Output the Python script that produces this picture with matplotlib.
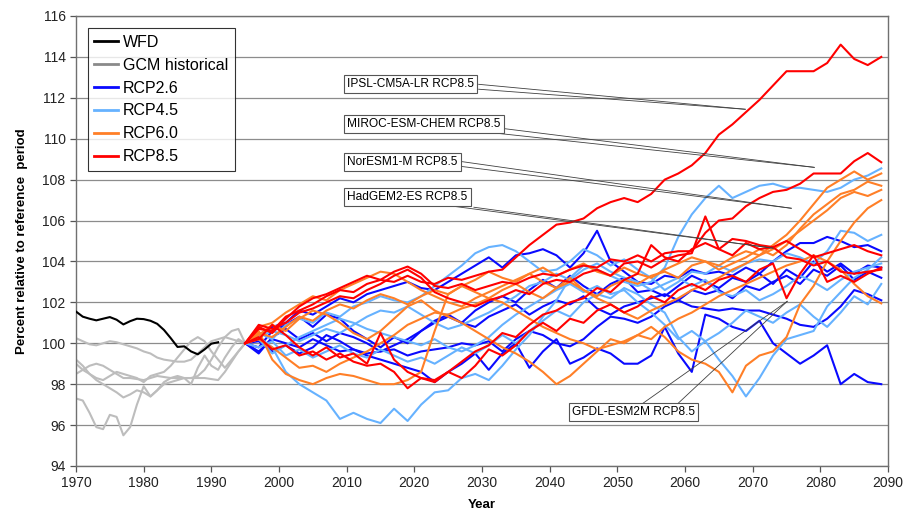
import matplotlib

matplotlib.use("Agg")

import matplotlib.pyplot as plt  # noqa: E402
from matplotlib.lines import Line2D  # noqa: E402

plt.rcParams["font.family"] = ["Liberation Sans", "DejaVu Sans"]

# ---- data -----------------------------------------------------------------
wfd_years = list(range(1970, 1992))
wfd = [101.55, 101.3, 101.2, 101.12, 101.2, 101.28, 101.15, 100.92, 101.08, 101.2, 101.18,
       101.1, 100.95, 100.65, 100.25, 99.82, 99.85, 99.6, 99.46, 99.7, 99.98, 100.05]

hist_years = list(range(1970, 1996))
gcm_hist = [
    [100.25, 100.1, 99.95, 99.9, 100.0, 100.1, 100.05, 99.95, 99.85, 99.75, 99.6, 99.5, 99.3,
     99.2, 99.15, 99.1, 99.1, 99.2, 99.5, 99.8, 100.1, 100.2, 100.3, 100.2, 100.1, 100.0],
    [99.2, 98.9, 98.5, 98.2, 98.0, 97.8, 97.6, 97.35, 97.5, 97.7, 97.6, 97.4, 97.7, 98.1, 98.3,
     98.4, 98.3, 98.3, 98.4, 98.7, 99.2, 99.8, 100.3, 100.6, 100.7, 100.0],
    [98.5, 98.7, 98.9, 99.0, 98.9, 98.7, 98.5, 98.3, 98.3, 98.25, 98.2, 98.3, 98.4, 98.35, 98.3,
     98.3, 98.3, 98.3, 98.3, 98.3, 98.25, 98.2, 98.6, 99.1, 99.6, 100.0],
    [97.3, 97.2, 96.6, 95.9, 95.8, 96.5, 96.4, 95.5, 95.9, 97.0, 97.9, 97.4, 97.7, 98.0, 98.1,
     98.2, 98.3, 98.0, 98.8, 99.4, 98.9, 98.7, 99.3, 99.8, 100.2, 100.0],
    [99.0, 98.7, 98.5, 98.3, 98.2, 98.4, 98.6, 98.5, 98.4, 98.3, 98.1, 98.4, 98.5, 98.6, 98.9,
     99.3, 99.7, 100.1, 100.3, 100.1, 99.6, 99.2, 98.8, 99.2, 99.6, 100.0],
]

proj_years = list(range(1995, 2090, 2))

rcp26 = [
    [100, 99.6, 100.2, 100.0, 99.8, 100.2, 99.9, 99.6, 99.7, 99.4, 99.2, 99.0, 98.8, 98.6, 98.1, 98.6,
     99.0, 99.5, 98.7, 99.5, 100.0, 98.8, 99.6, 100.2, 99.0, 99.3, 99.75, 99.5, 99.0, 99.0, 99.4, 100.8,
     99.5, 98.6, 101.4, 101.2, 100.8, 100.6, 101.1, 100.0, 99.5, 99.0, 99.4, 99.9, 98.0, 98.5, 98.1, 98.0],
    [100, 100.4, 100.8, 101.0, 101.6, 101.4, 101.8, 102.2, 102.0, 102.4, 102.6, 102.8, 103.0, 102.7, 102.6, 103.0,
     103.4, 103.8, 104.2, 103.7, 104.3, 104.4, 104.6, 104.3, 103.7, 104.4, 105.5, 104.0, 103.5, 103.0, 102.9, 103.3,
     103.2, 103.6, 103.4, 103.5, 103.3, 103.7, 103.4, 104.0, 104.5, 104.9, 104.9, 105.2, 105.0, 104.7, 104.8, 104.5],
    [100, 99.8, 100.6, 100.9, 101.3, 100.8, 101.4, 101.2, 100.6, 100.2, 99.8, 100.3, 100.0, 100.6, 101.1, 101.4,
     101.0, 101.6, 102.0, 102.3, 102.0, 102.6, 103.1, 102.7, 103.3, 102.8, 102.4, 102.9, 103.2, 102.5, 102.6, 102.3,
     102.8, 103.3, 103.0, 102.7, 103.2, 103.0, 103.4, 102.9, 103.6, 103.2, 104.0, 103.5, 103.9, 103.4, 103.8, 103.7],
    [100, 100.1, 99.6, 99.9, 99.5, 99.8, 100.4, 100.1, 99.7, 99.5, 99.6, 99.9, 100.2, 100.6, 101.0, 101.3,
     101.0, 100.8, 101.3, 101.6, 101.9, 101.4, 101.8, 102.1, 101.9, 102.3, 101.7, 101.4, 101.8, 102.0, 102.2, 102.4,
     102.1, 102.6, 102.4, 102.6, 102.2, 102.8, 102.6, 103.0, 103.3, 102.9, 103.6, 103.3, 103.8, 103.1, 103.5, 103.2],
    [100, 99.5, 100.3, 100.7, 100.2, 100.5, 100.1, 100.5, 100.3, 100.0, 99.6, 99.7, 99.4, 99.6, 99.7, 99.8,
     100.0, 99.9, 100.1, 99.6, 100.2, 100.6, 100.4, 100.0, 99.85, 100.2, 100.8, 101.3, 101.2, 101.0, 101.3, 101.8,
     102.1, 101.8, 101.7, 101.6, 101.7, 101.6, 101.6, 101.4, 101.2, 100.9, 100.8, 101.2, 101.8, 102.6, 102.4, 102.1],
]

rcp45 = [
    [100, 100.3, 99.8, 98.6, 98.0, 97.6, 97.2, 96.3, 96.6, 96.3, 96.1, 96.8, 96.2, 97.0, 97.6, 97.7,
     98.3, 98.5, 98.2, 98.9, 99.7, 100.4, 101.3, 102.1, 103.2, 103.8, 103.6, 103.3, 103.0, 102.8, 103.0, 103.7,
     105.2, 106.3, 107.1, 107.7, 107.1, 107.4, 107.7, 107.8, 107.6, 107.6, 107.5, 107.4, 107.6, 108.0, 108.2, 108.55],
    [100, 100.5, 100.2, 100.9, 101.2, 101.0, 101.5, 101.3, 101.8, 102.0, 102.3, 102.1, 102.0, 102.3, 102.8, 103.3,
     103.8, 104.4, 104.7, 104.8, 104.5, 104.0, 103.5, 103.6, 104.0, 104.6, 104.3, 103.8, 104.1, 103.6, 103.2, 102.6,
     103.0, 103.5, 103.4, 103.8, 103.5, 103.9, 104.1, 104.0, 104.4, 104.2, 103.9, 104.5, 105.5, 105.4, 105.0, 105.3],
    [100, 100.2, 99.5, 99.9, 100.3, 100.6, 100.9, 101.2, 101.0, 100.7, 100.5, 100.3, 100.1, 99.9, 100.2, 99.8,
     99.6, 99.9, 100.3, 100.9, 101.4, 101.8, 102.2, 102.6, 102.9, 102.5, 102.8, 102.4, 102.6, 102.0, 101.5, 100.9,
     100.2, 100.6, 100.1, 99.2, 98.4, 97.4, 98.3, 99.4, 100.2, 100.4, 100.6, 101.8, 102.5, 103.2, 103.6, 104.2],
    [100, 100.3, 100.6, 100.4, 100.1, 100.4, 100.7, 100.5, 100.9, 101.3, 101.6, 101.5, 101.8, 101.4, 101.0, 100.7,
     100.9, 101.2, 101.5, 101.9, 102.3, 102.8, 103.0, 103.4, 103.1, 103.6, 103.9, 103.5, 103.2, 103.0, 102.6, 102.9,
     103.2, 102.8, 103.1, 102.5, 102.3, 102.6, 102.1, 102.4, 102.8, 103.3, 103.0, 102.6, 103.1, 103.5, 103.7, 103.9],
    [100, 99.8, 100.1, 99.4, 99.7, 99.3, 99.6, 99.9, 99.5, 99.3, 99.7, 99.4, 99.1, 99.3, 99.0, 99.4,
     99.8, 99.5, 99.9, 100.4, 100.0, 100.6, 101.1, 101.6, 101.3, 102.0, 102.4, 102.2, 102.7, 102.4, 101.9, 101.5,
     100.3, 99.6, 100.1, 100.5, 101.0, 101.6, 101.3, 101.0, 101.5, 101.9, 101.3, 100.8, 101.5, 102.3, 101.9, 102.9],
]

rcp60 = [
    [100, 100.6, 99.2, 98.5, 98.2, 98.0, 98.3, 98.5, 98.4, 98.2, 98.0, 98.0, 98.2, 98.6, 100.6, 102.4,
     102.8, 102.5, 102.2, 102.6, 102.9, 102.5, 102.2, 102.7, 103.0, 102.6, 102.3, 102.8, 103.1, 102.9, 103.3, 103.5,
     103.2, 103.8, 104.0, 103.6, 103.9, 104.2, 104.6, 104.3, 104.8, 105.6, 106.3, 106.8, 107.3, 107.5, 107.9, 107.7],
    [100, 100.4, 100.9, 100.6, 101.2, 101.6, 101.4, 101.0, 100.5, 100.2, 100.6, 101.2, 101.8, 102.1, 101.6, 101.3,
     101.0, 100.6, 100.2, 99.8, 99.5, 99.1, 98.6, 98.0, 98.4, 99.0, 99.6, 100.2, 100.0, 100.4, 100.8, 100.3,
     99.6, 99.2, 99.0, 98.6, 97.6, 98.9, 99.4, 99.6, 100.3, 101.9, 102.8, 104.0, 105.0, 105.9, 106.6, 107.0],
    [100, 100.8, 101.0, 101.5, 101.9, 102.3, 102.1, 102.6, 102.9, 103.2, 103.5, 103.4, 103.0, 102.6, 102.3, 102.0,
     101.8, 102.2, 102.5, 102.8, 103.1, 103.4, 103.0, 102.7, 103.2, 102.6, 102.2, 101.9, 101.5, 101.2, 101.6, 101.9,
     102.2, 102.6, 102.9, 103.2, 103.6, 103.9, 104.3, 104.6, 105.0, 105.5, 106.0, 106.5, 107.1, 107.4, 107.2, 107.5],
    [100, 100.5, 100.3, 100.8, 101.3, 101.1, 101.6, 101.9, 101.7, 102.1, 102.4, 102.2, 101.9, 102.3, 102.6, 102.4,
     102.8, 103.1, 103.5, 103.2, 103.0, 103.4, 103.7, 103.3, 103.6, 103.9, 103.5, 103.3, 103.7, 103.4, 103.2, 103.6,
     103.9, 104.2, 104.0, 103.8, 104.2, 104.5, 104.3, 104.8, 105.3, 106.0, 106.8, 107.6, 108.0, 108.4, 108.0, 108.3],
    [100, 100.2, 99.8, 99.3, 98.8, 98.9, 98.6, 99.0, 99.3, 99.6, 100.0, 100.4, 100.9, 101.2, 101.5, 101.4,
     101.7, 101.9, 102.2, 102.0, 101.6, 101.2, 100.8, 100.5, 100.2, 100.0, 99.7, 99.9, 100.1, 100.4, 100.2, 100.8,
     101.2, 101.5, 101.9, 102.3, 102.6, 102.9, 103.2, 103.5, 103.8, 104.0, 104.3, 104.0, 103.6, 102.9, 102.3, 101.95],
]

rcp85 = [
    # IPSL-CM5A-LR
    [100, 100.7, 100.6, 101.3, 101.6, 101.9, 102.3, 102.6, 102.5, 102.9, 103.1, 103.0, 103.3, 103.0, 102.9, 103.2,
     103.1, 103.3, 103.5, 103.6, 104.2, 104.8, 105.3, 105.8, 105.9, 106.1, 106.6, 106.9, 107.1, 106.9, 107.3, 108.0,
     108.3, 108.7, 109.3, 110.2, 110.7, 111.3, 111.9, 112.6, 113.3, 113.3, 113.3, 113.7, 114.6, 113.9, 113.6, 114.0],
    # MIROC-ESM-CHEM
    [100, 100.8, 100.5, 101.2, 101.8, 102.2, 102.4, 102.7, 103.0, 103.3, 103.1, 103.5, 103.75, 103.4, 102.8, 102.7,
     102.9, 102.6, 102.8, 103.0, 102.9, 103.2, 103.4, 103.3, 103.6, 103.8, 103.7, 104.1, 104.0, 104.3, 104.0, 104.4,
     104.5, 104.5, 105.4, 106.0, 106.1, 106.7, 107.1, 107.4, 107.5, 107.8, 108.3, 108.3, 108.3, 108.9, 109.3, 108.85],
    # NorESM1-M
    [100, 100.3, 99.7, 99.9, 99.4, 99.6, 99.2, 99.5, 99.1, 98.9, 99.0, 98.6, 97.8, 98.3, 98.1, 98.6,
     99.1, 99.6, 99.9, 100.5, 100.3, 100.9, 101.4, 101.6, 102.0, 102.2, 102.7, 102.5, 103.1, 103.4, 104.8, 104.2,
     104.0, 104.6, 104.9, 104.6, 105.1, 105.0, 104.8, 104.7, 105.0, 104.6, 104.2, 104.4, 104.6, 104.8, 104.5, 104.3],
    # HadGEM2-ES
    [100, 100.9, 100.7, 101.0, 101.5, 101.7, 102.0, 102.3, 102.2, 102.6, 102.9, 103.3, 103.6, 103.2, 102.5, 102.2,
     102.0, 101.8, 102.1, 102.3, 102.6, 102.4, 102.9, 103.1, 103.0, 103.4, 103.6, 103.3, 103.9, 104.0, 103.7, 104.1,
     104.3, 104.4, 106.2, 104.6, 104.3, 104.9, 104.6, 104.7, 104.2, 104.1, 103.8, 104.0, 103.5, 103.4, 103.5, 103.6],
    # GFDL-ESM2M
    [100, 100.2, 100.9, 100.4, 99.8, 99.4, 99.8, 99.3, 99.5, 99.0, 100.5, 99.2, 98.6, 98.3, 98.2, 98.6,
     98.3, 98.9, 99.7, 99.4, 99.9, 100.6, 101.0, 100.6, 101.2, 101.0, 101.6, 101.9, 101.5, 101.8, 102.3, 102.0,
     102.6, 102.9, 102.6, 103.1, 103.3, 103.0, 103.6, 103.9, 102.2, 103.4, 104.3, 103.0, 103.3, 103.0, 103.4, 103.7],
]

# callout labels: text, text anchor (year, value), two wedge starts, target point
callouts = [
    ("IPSL-CM5A-LR RCP8.5", (2010.1, 112.69), [(2029.5, 112.66), (2029.5, 112.42)], (2068.9, 111.44)),
    ("MIROC-ESM-CHEM RCP8.5", (2010.1, 110.73), [(2029.3, 110.37), (2033.1, 110.5)], (2079.1, 108.6)),
    ("NorESM1-M RCP8.5", (2010.1, 108.85), [(2026.6, 108.9), (2026.6, 108.66)], (2075.7, 106.6)),
    ("HadGEM2-ES RCP8.5", (2010.1, 107.16), [(2025.7, 106.7), (2028.8, 106.65)], (2073.0, 104.65)),
    ("GFDL-ESM2M RCP8.5", (2043.3, 96.65), [(2053.8, 97.07), (2059.0, 97.07)], (2075.1, 102.05)),
]

colors = {
    "WFD": "#000000",
    "GCM historical": "#bdbdbd",
    "RCP2.6": "#0a0aff",
    "RCP4.5": "#66b2ff",
    "RCP6.0": "#ff7f27",
    "RCP8.5": "#ff0000",
}

# ---- figure ---------------------------------------------------------------
fig = plt.figure(figsize=(9.07, 5.21), dpi=100)
ax = fig.add_axes([0.0838, 0.1056, 0.8953, 0.8637])

for y in range(94, 117, 2):
    ax.axhline(y, color="#8c8c8c", linewidth=0.9, zorder=1)

for run in gcm_hist:
    ax.plot(hist_years, run, color=colors["GCM historical"], linewidth=1.5, zorder=2)
ax.plot(wfd_years, wfd, color=colors["WFD"], linewidth=1.5, zorder=3)

for name, runs in (("RCP2.6", rcp26), ("RCP4.5", rcp45), ("RCP6.0", rcp60), ("RCP8.5", rcp85)):
    for run in runs:
        ax.plot(proj_years, run, color=colors[name], linewidth=1.5, zorder=3)

for label, (tx, ty), starts, (px, py) in callouts:
    for sx, sy in starts:
        ax.plot([sx, px], [sy, py], color="#404040", linewidth=0.6, zorder=5)
    ax.text(tx, ty, label, fontsize=8.6, ha="left", va="center", zorder=6,
            bbox=dict(boxstyle="square,pad=0.25", facecolor="white", edgecolor="#555555", linewidth=0.8))

ax.set_xlim(1970, 2090)
ax.set_ylim(94, 116)
ax.set_xticks(range(1970, 2091, 10))
ax.set_yticks(range(94, 117, 2))
ax.tick_params(axis="both", direction="out", length=4, width=0.9, color="#555555",
               labelsize=10, labelcolor="#222222")
for spine in ax.spines.values():
    spine.set_color("#707070")
    spine.set_linewidth(1.0)

ax.set_xlabel("Year", fontsize=9.5, fontweight="bold", labelpad=6)
ax.set_ylabel("Percent relative to reference  period", fontsize=9.5, fontweight="bold", labelpad=10)

handles = [Line2D([], [], color=c, linewidth=2.0) for c in colors.values()]
handles[1].set_color("#8a8a8a")
legend = ax.legend(handles, list(colors.keys()), loc="upper left", bbox_to_anchor=(0.0148, 0.973),
                   borderaxespad=0, fontsize=11.5, frameon=True, fancybox=False, handlelength=1.45,
                   handletextpad=0.35, labelspacing=0.5, borderpad=0.4)
legend.get_frame().set_edgecolor("#000000")
legend.get_frame().set_linewidth(0.8)
legend.set_zorder(7)

fig.savefig("out.png", dpi=100)
